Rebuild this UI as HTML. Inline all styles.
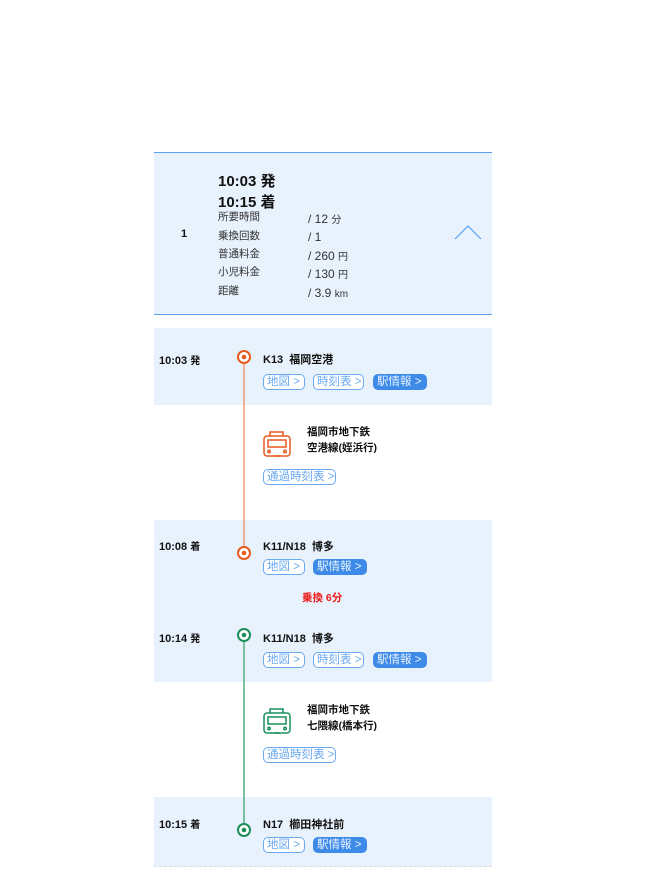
<!DOCTYPE html>
<html><head><meta charset="utf-8"><style>
*{margin:0;padding:0;box-sizing:border-box}
body{width:653px;height:870px;background:#fff;position:relative;overflow:hidden;font-family:"Liberation Sans","Noto Sans CJK JP",sans-serif;color:#111}
.a{position:absolute;white-space:nowrap}
.bg{position:absolute;left:154px;width:338px;background:#e8f2fd}
.t{font-size:11px;font-weight:bold;line-height:14px}
.lb{font-size:10.5px;color:#333;line-height:14px}
.v{font-size:12px;color:#333;line-height:14px}
.v small{font-size:10px}
.b{position:absolute;height:16px;border:1px solid #6aa8f0;border-radius:5px;color:#6aa8f0;font-size:11.5px;line-height:14px;padding-left:3px;background:#fff;white-space:nowrap}
.f{background:#3d8ae8;border-color:#3d8ae8;color:#e8f2ff}
</style></head><body>
<div class="bg" style="top:152px;height:163px;border-top:1px solid #5aa0f0;border-bottom:1px solid #5aa0f0"></div>
<div class="a" style="left:218px;top:170px;font-size:15px;font-weight:bold">10:03 発</div>
<div class="a" style="left:218px;top:191px;font-size:15px;font-weight:bold">10:15 着</div>
<div class="a lb" style="left:218px;top:210px">所要時間</div>
<div class="a lb" style="left:218px;top:229px">乗換回数</div>
<div class="a lb" style="left:218px;top:247px">普通料金</div>
<div class="a lb" style="left:218px;top:265px">小児料金</div>
<div class="a lb" style="left:218px;top:284px">距離</div>
<div class="a v" style="left:308px;top:212px">/ 12 <small>分</small></div>
<div class="a v" style="left:308px;top:230px">/ 1</div>
<div class="a v" style="left:308px;top:249px">/ 260 <small>円</small></div>
<div class="a v" style="left:308px;top:267px">/ 130 <small>円</small></div>
<div class="a v" style="left:308px;top:286px">/ 3.9 <small>km</small></div>
<div class="a t" style="left:181px;top:227px">1</div>
<svg class="a" style="left:454px;top:224px" width="29" height="18"><polyline points="1,15 14,2 27,15" fill="none" stroke="#5aa0f0" stroke-width="1.2"/></svg>

<div class="bg" style="top:328px;height:77px"></div>
<div class="bg" style="top:520px;height:162px"></div>
<div class="bg" style="top:797px;height:70px;border-bottom:1px dashed #ddd"></div>

<svg class="a" style="left:0;top:0" width="653" height="870">
<line x1="244" y1="363" x2="244" y2="547" stroke="#f0a080" stroke-width="1.6"/>
<line x1="244" y1="641" x2="244" y2="824" stroke="#5cb08a" stroke-width="1.6"/>
<circle cx="244" cy="357" r="6" fill="#fff" stroke="#e8591e" stroke-width="2"/><circle cx="244" cy="357" r="2.3" fill="#e8591e"/>
<circle cx="244" cy="553" r="6" fill="#fff" stroke="#e8591e" stroke-width="2"/><circle cx="244" cy="553" r="2.3" fill="#e8591e"/>
<circle cx="244" cy="635" r="6" fill="#fff" stroke="#1a8f5a" stroke-width="2"/><circle cx="244" cy="635" r="2.3" fill="#1a8f5a"/>
<circle cx="244" cy="830" r="6" fill="#fff" stroke="#1a8f5a" stroke-width="2"/><circle cx="244" cy="830" r="2.3" fill="#1a8f5a"/>
<g fill="none" stroke="#e8591e" stroke-width="1.5">
<rect x="264" y="436" width="26" height="20" rx="3"/><rect x="268" y="440" width="18" height="7"/>
<path d="M270,436 V432 H283 V436"/><circle cx="269" cy="451.5" r="1.2"/><circle cx="285" cy="451.5" r="1.2"/><line x1="274" y1="456" x2="280" y2="456"/></g>
<g fill="none" stroke="#1a8f5a" stroke-width="1.5">
<rect x="264" y="713" width="26" height="20" rx="3"/><rect x="268" y="717" width="18" height="7"/>
<path d="M270,713 V709 H283 V713"/><circle cx="269" cy="728.5" r="1.2"/><circle cx="285" cy="728.5" r="1.2"/><line x1="274" y1="733" x2="280" y2="733"/></g>
</svg>

<div class="a t" style="left:159px;top:354px">10:03 <span style="font-size:10px">発</span></div>
<div class="a t" style="left:263px;top:353px">K13&nbsp; 福岡空港</div>
<div class="b" style="left:263px;top:374px;width:42px">地図 &gt;</div>
<div class="b" style="left:313px;top:374px;width:51px">時刻表 &gt;</div>
<div class="b f" style="left:373px;top:374px;width:54px">駅情報 &gt;</div>

<div class="a t" style="left:307px;top:425px;font-size:10.5px">福岡市地下鉄</div>
<div class="a t" style="left:307px;top:441px;font-size:10.5px">空港線(姪浜行)</div>
<div class="b" style="left:263px;top:469px;width:73px">通過時刻表 &gt;</div>

<div class="a t" style="left:159px;top:540px">10:08 <span style="font-size:10px">着</span></div>
<div class="a t" style="left:263px;top:540px">K11/N18&nbsp; 博多</div>
<div class="b" style="left:263px;top:559px;width:42px">地図 &gt;</div>
<div class="b f" style="left:313px;top:559px;width:54px">駅情報 &gt;</div>
<div class="a t" style="left:302px;top:591px;color:#f01818;font-size:10.5px">乗換 6分</div>

<div class="a t" style="left:159px;top:632px">10:14 <span style="font-size:10px">発</span></div>
<div class="a t" style="left:263px;top:632px">K11/N18&nbsp; 博多</div>
<div class="b" style="left:263px;top:652px;width:42px">地図 &gt;</div>
<div class="b" style="left:313px;top:652px;width:51px">時刻表 &gt;</div>
<div class="b f" style="left:373px;top:652px;width:54px">駅情報 &gt;</div>

<div class="a t" style="left:307px;top:703px;font-size:10.5px">福岡市地下鉄</div>
<div class="a t" style="left:307px;top:719px;font-size:10.5px">七隈線(橋本行)</div>
<div class="b" style="left:263px;top:747px;width:73px">通過時刻表 &gt;</div>

<div class="a t" style="left:159px;top:818px">10:15 <span style="font-size:10px">着</span></div>
<div class="a t" style="left:263px;top:818px">N17&nbsp; 櫛田神社前</div>
<div class="b" style="left:263px;top:837px;width:42px">地図 &gt;</div>
<div class="b f" style="left:313px;top:837px;width:54px">駅情報 &gt;</div>
</body></html>
